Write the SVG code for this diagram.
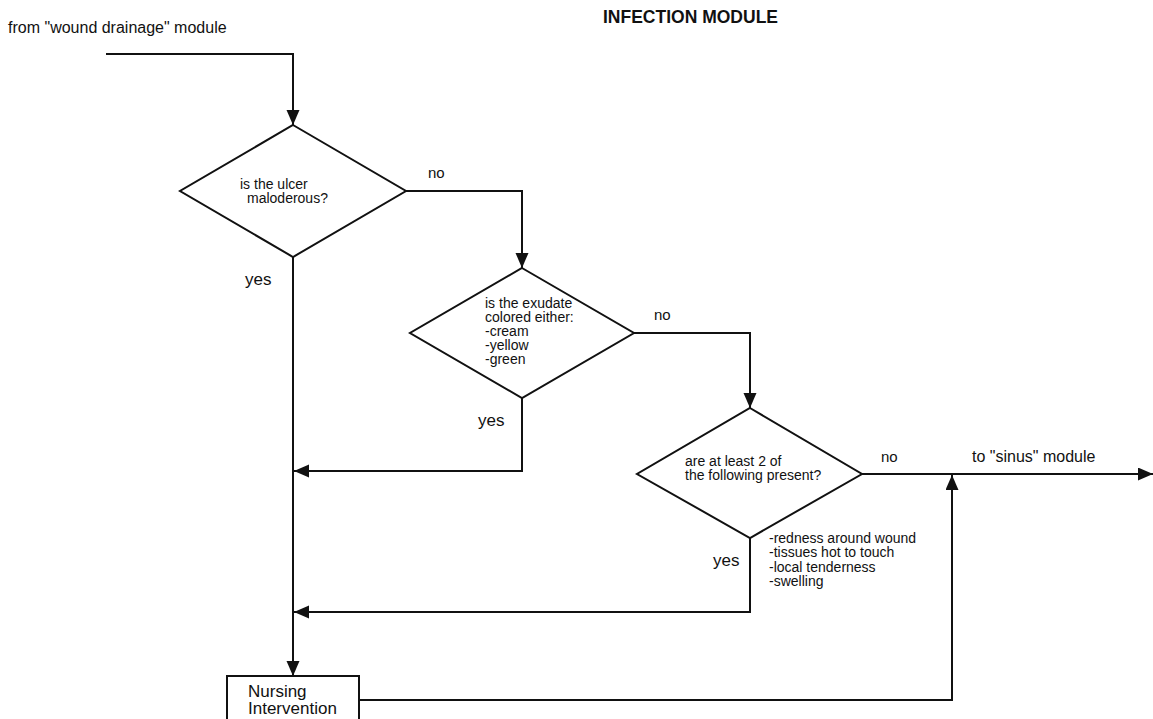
<svg xmlns="http://www.w3.org/2000/svg" width="1153" height="719" viewBox="0 0 1153 719">
<defs>
<marker id="ah" markerUnits="userSpaceOnUse" markerWidth="16" markerHeight="14" refX="15" refY="6.5" orient="auto">
<path d="M0,0 L15,6.5 L0,13 Z" fill="#111"/>
</marker>
<style>
.sh{fill:#fff;stroke:#111;stroke-width:2}
.ln{fill:none;stroke:#111;stroke-width:2}
.t{font-family:"Liberation Sans",Arial,sans-serif;fill:#111}
.s14{font-size:14px}
</style>
</defs>
<rect width="1153" height="719" fill="#fff"/>
<text class="t" x="603" y="23" font-size="17.5" font-weight="bold">INFECTION MODULE</text>
<text class="t" x="8" y="33" font-size="16">from "wound drainage" module</text>
<g id="connectors">
<path class="ln" d="M106,54 H293 V125" marker-end="url(#ah)"/>
<path class="ln" d="M406,191 H522 V268" marker-end="url(#ah)"/>
<path class="ln" d="M634,333 H750 V408" marker-end="url(#ah)"/>
<path class="ln" d="M862,474 H1153" marker-end="url(#ah)"/>
<path class="ln" d="M293,257 V676" marker-end="url(#ah)"/>
<path class="ln" d="M522,398 V471 H294" marker-end="url(#ah)"/>
<path class="ln" d="M750,538 V612 H294" marker-end="url(#ah)"/>
<path class="ln" d="M359,700 H952 V475" marker-end="url(#ah)"/>
<text class="t" x="428" y="178" font-size="15">no</text>
<text class="t" x="654" y="320" font-size="15">no</text>
<text class="t" x="881" y="462" font-size="15">no</text>
<text class="t" x="972" y="462" font-size="16">to "sinus" module</text>
<text class="t" x="245" y="285" font-size="17">yes</text>
<text class="t" x="478" y="426" font-size="17">yes</text>
<text class="t" x="713" y="566" font-size="17">yes</text>
<text class="t s14" x="769" y="543">-redness around wound</text>
<text class="t s14" x="769" y="557">-tissues hot to touch</text>
<text class="t s14" x="769" y="572">-local tenderness</text>
<text class="t s14" x="769" y="586">-swelling</text>
</g>
<g id="d1">
<polygon class="sh" points="293,125 406,191 293,257 180,191"/>
<text class="t s14" x="240" y="189">is the ulcer</text>
<text class="t s14" x="247" y="203">maloderous?</text>
</g>
<g id="d2">
<polygon class="sh" points="522,268 634,333 522,398 410,333"/>
<text class="t s14" x="485" y="308">is the exudate</text>
<text class="t s14" x="485" y="322">colored either:</text>
<text class="t s14" x="485" y="336">-cream</text>
<text class="t s14" x="485" y="350">-yellow</text>
<text class="t s14" x="485" y="364">-green</text>
</g>
<g id="d3">
<polygon class="sh" points="750,408 862,474 750,538 637,474"/>
<text class="t s14" x="685" y="466">are at least 2 of</text>
<text class="t s14" x="685" y="480">the following present?</text>
</g>
<g id="nursing">
<rect class="sh" x="227" y="676" width="132" height="50"/>
<text class="t" x="248" y="697" font-size="17">Nursing</text>
<text class="t" x="248" y="714" font-size="17">Intervention</text>
</g>
</svg>
